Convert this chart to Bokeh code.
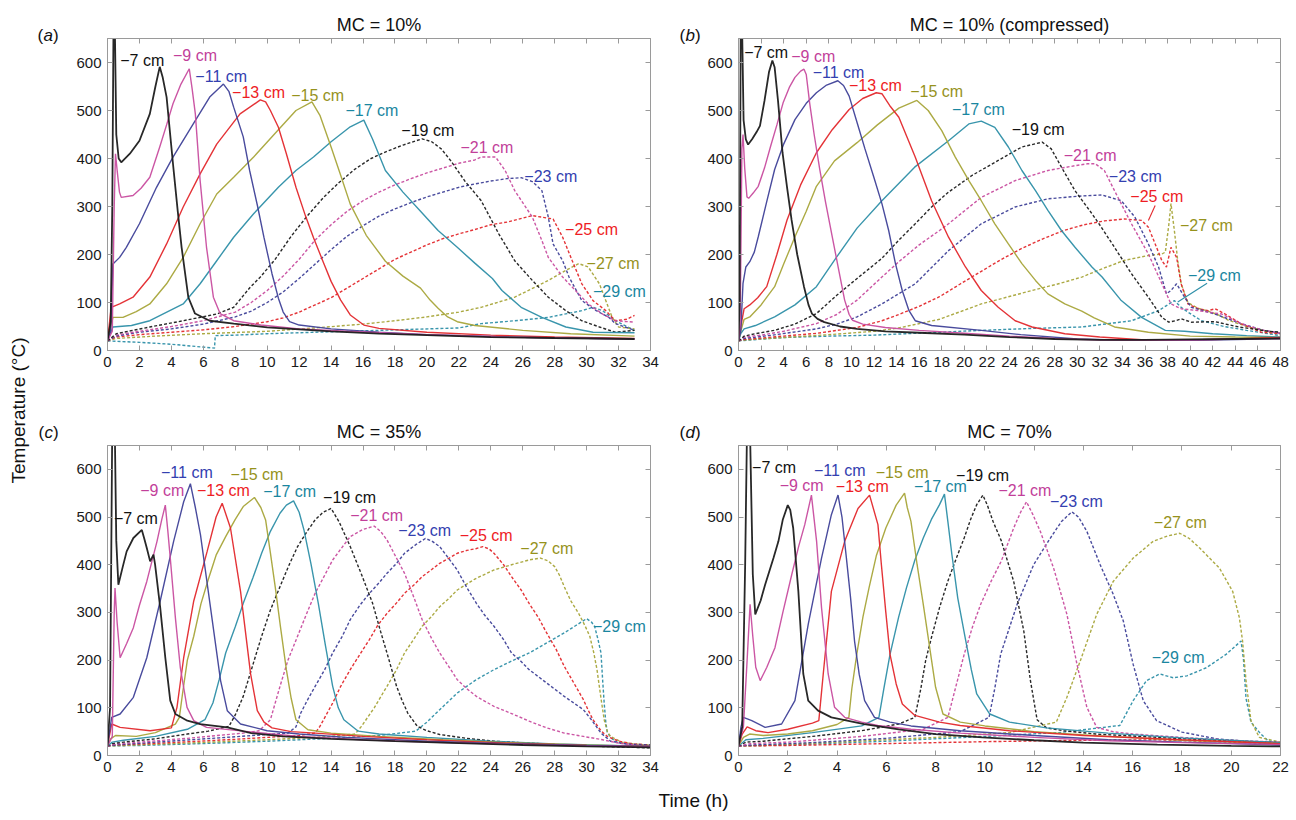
import math
from bokeh.plotting import figure
from bokeh.layouts import row, column
from bokeh.models import Range1d, FixedTicker, LinearAxis, ColumnDataSource
from bokeh.core.properties import value
from bokeh.embed import file_html
from bokeh.resources import INLINE

# ---------------- data: (time h, temperature C) ----------------
DEPTHS = [7, 9, 11, 13, 15, 17, 19, 21, 23, 25, 27, 29]

# Panel (a) MC = 10%
a07 = [(0,20),(0.2,60),(0.3,300),(0.38,700),(0.45,700),(0.55,450),(0.7,400),(0.86,392),(1.4,410),(2.0,437),(2.65,493),(3.0,550),(3.27,591),(3.45,570),(3.7,528),(4.1,389),(4.4,290),(4.64,215),(5.06,111),(5.48,77),(6.4,62),(7.9,56),(10,48),(12,44),(14,40),(17,35),(20,32),(24,28),(28,26),(33,24)]
a09 = [(0,20),(0.3,40),(0.42,300),(0.5,410),(0.62,370),(0.75,330),(0.86,319),(1.6,323),(2.1,338),(2.65,361),(3.27,424),(3.7,470),(4.1,514),(4.6,555),(5.12,587),(5.3,545),(5.5,493),(5.8,354),(6.2,215),(6.63,111),(7.05,77),(7.9,62),(9.6,53),(12,45),(15,40),(20,33),(25,28),(33,24)]
a11 = [(0,20),(0.2,40),(0.34,180),(0.76,194),(1.18,215),(2.0,264),(3.07,340),(4.1,403),(5.37,472),(6.4,528),(7.26,555),(7.6,540),(7.9,507),(8.5,445),(8.9,375),(9.4,300),(9.8,235),(10.3,160),(10.7,109),(11.0,80),(11.4,60),(12,53),(14,45),(17,38),(20,33),(25,28),(33,24)]
a13 = [(0,20),(0.23,90),(0.76,97),(1.6,111),(2.65,153),(3.7,222),(4.74,299),(5.8,368),(6.84,430),(8.3,493),(9.57,522),(9.9,518),(10.2,500),(10.7,465),(11.2,410),(11.8,340),(12.4,280),(12.9,235),(13.5,185),(14.0,144),(14.6,105),(15.2,74),(16.05,53),(17,46),(20,38),(24,32),(28,28),(33,25)]
a15 = [(0,20),(0.34,69),(0.97,69),(1.8,81),(2.65,97),(3.7,139),(4.74,194),(5.8,264),(6.84,326),(7.9,361),(9.15,403),(10.7,460),(11.8,500),(12.8,518),(13.3,490),(14.0,424),(14.6,365),(15.2,305),(16.2,240),(17.4,186),(18.5,155),(19.6,130),(20.2,105),(20.7,88),(21.3,70),(21.9,60),(23,52),(26,42),(29,35),(33,30)]
a17 = [(0,20),(0.34,49),(1.5,52),(2.65,62),(4.74,97),(5.8,139),(6.84,187),(7.9,236),(9.15,285),(10.7,340),(11.8,375),(12.9,403),(14.0,435),(15.2,466),(16.05,480),(16.6,440),(17.4,375),(18.5,330),(19.6,290),(20.7,250),(21.9,215),(23.0,182),(24.1,150),(24.7,125),(25.9,90),(27.2,69),(28.7,49),(30.4,38),(33,37)]
a19 = [(0,20),(0.55,35),(2.65,49),(4.74,62),(6.84,76),(7.9,90),(8.94,132),(9.57,153),(10.5,190),(11.5,238),(12.5,280),(13.5,318),(14.5,350),(15.5,378),(16.5,400),(17.5,415),(18.5,428),(19.7,441),(20.3,435),(20.9,420),(21.5,395),(22.4,352),(23.4,312),(24.5,243),(25.5,187),(26.6,146),(27.6,111),(28.7,83),(29.7,62),(30.8,49),(31.8,38),(33,42)]
a21 = [(0,20),(0.5,32),(2,40),(4,50),(6,62),(8,80),(9,100),(10,125),(11,155),(12,190),(13,230),(14,262),(15,290),(16,312),(17,330),(18,345),(19,358),(20,370),(21,380),(22,390),(23,397),(23.4,403),(24.3,403),(24.9,375),(25.5,333),(26.6,278),(27.2,229),(27.6,194),(28.5,153),(29.3,125),(30.1,97),(31.0,76),(31.8,62),(33,59)]
a23 = [(0,20),(0.5,30),(2,38),(4,45),(6,55),(8,70),(9,82),(10,100),(11,122),(12,150),(13,180),(14,210),(15,238),(16,260),(17,280),(18,295),(19,308),(20,320),(21,330),(22,340),(23,347),(24,353),(25,358),(25.9,360),(26.6,352),(27.2,333),(27.6,278),(27.9,222),(28.5,187),(28.9,153),(29.7,104),(30.6,83),(31.4,69),(31.8,56),(33,42)]
a25 = [(0,20),(0.5,28),(2,33),(4,38),(6,43),(8,50),(10,60),(11,68),(12,80),(13,95),(14,110),(15,130),(16,150),(17,170),(18,190),(19,205),(20,220),(21,233),(22,243),(23,252),(24,262),(25.1,268),(26.6,281),(27.9,274),(28.5,236),(29.1,187),(29.7,139),(30.4,104),(31.2,83),(31.8,62),(32.5,65),(33,73)]
a27 = [(0,20),(0.5,25),(3,30),(6,35),(10,40),(13,47),(16,55),(18,62),(20,70),(22,80),(23.4,90),(25.5,111),(27.6,146),(28.7,167),(29.5,181),(30.1,174),(30.8,139),(31.2,104),(31.6,69),(32.0,49),(33,45)]
a29 = [(0,20),(2,17),(4,13),(6,7),(6.7,5),(6.75,31),(8,32),(10,35),(14,39),(18,43),(22,47),(23.4,56),(25.5,62),(27.6,69),(29.7,83),(30.4,90),(31.0,83),(31.8,62),(33,42)]
a_lab_depth = [7, 9, 11, 13, 15, 17, 19, 21, 23, 25, 27, 29]
a_lab_text = ["−7 cm", "−9 cm", "−11 cm", "−13 cm", "−15 cm", "−17 cm", "−19 cm", "−21 cm", "−23 cm", "−25 cm", "−27 cm", "−29 cm"]
a_lab_t = [0.8, 4.1, 5.5, 7.8, 11.5, 14.9, 18.4, 22.1, 26.1, 28.65, 30.0, 30.4]
a_lab_T = [604, 614, 571, 537, 532, 500, 459, 422, 362, 252, 182, 122]

# Panel (b) MC = 10% (compressed)
b07 = [(0,20),(0.1,100),(0.2,700),(0.3,700),(0.45,480),(0.65,440),(0.85,429),(1.2,440),(1.6,455),(1.9,468),(2.3,520),(2.7,580),(3.0,604),(3.2,590),(3.5,520),(3.9,412),(4.3,340),(4.7,272),(5.2,200),(5.8,133),(6.2,95),(6.5,77),(7.0,66),(7.6,59),(9,50),(10.5,45),(13,40),(16,37),(20,33),(24,28),(28,24),(32,22),(36,22),(40,23),(44,24),(48,25)]
b09 = [(0,20),(0.15,60),(0.3,420),(0.4,450),(0.55,380),(0.75,320),(0.9,317),(1.3,328),(1.75,342),(2.3,380),(2.85,426),(3.4,470),(3.95,516),(4.5,548),(5.0,569),(5.5,582),(5.8,586),(6.0,575),(6.3,516),(6.7,450),(7.2,377),(7.7,310),(8.3,237),(8.9,165),(9.4,105),(9.8,75),(10.1,63),(11,55),(13,48),(16,42),(20,36),(24,30),(28,25),(32,22),(36,21),(40,22),(44,24),(48,25)]
b11 = [(0,20),(0.2,40),(0.4,140),(0.65,174),(1.0,185),(1.4,205),(1.75,237),(2.5,310),(3.2,377),(4.0,430),(5.0,481),(6.0,515),(6.9,537),(7.8,553),(8.8,562),(9.3,552),(9.8,530),(10.5,475),(11.2,420),(12.0,360),(12.7,306),(13.3,250),(13.9,181),(14.5,125),(15.1,83),(15.65,62),(17.1,52),(21.5,42),(25,33),(30,24),(35,21),(40,21),(44,23),(48,25)]
b13 = [(0,20),(0.2,50),(0.5,87),(1.0,95),(1.7,110),(2.5,133),(3.4,200),(4.3,272),(5.5,345),(6.9,412),(8.3,460),(9.8,502),(11,525),(12.2,537),(12.7,535),(13.4,510),(14.2,486),(15.65,403),(17.1,312),(18.6,236),(20.1,174),(21.5,125),(23.0,90),(24.5,62),(26.0,49),(28.9,35),(32,28),(36,22),(40,22),(44,24),(48,27)]
b15 = [(0,20),(0.2,40),(0.5,65),(1.0,70),(2.0,95),(3.2,133),(4.0,180),(5.0,237),(6.0,290),(6.9,342),(8.5,395),(10.5,433),(12.3,470),(14.2,505),(15.8,521),(16.8,500),(18.0,458),(19.2,403),(20.4,354),(21.5,312),(22.7,264),(23.9,222),(25.1,181),(26.3,146),(27.4,118),(28.9,97),(30.4,82),(31.5,68),(33.3,49),(36.3,38),(40,30),(44,28),(48,27)]
b17 = [(0,20),(0.2,35),(0.5,45),(1.5,52),(3.2,70),(5.0,95),(6.9,133),(8.7,195),(10.5,255),(12.7,312),(15.6,382),(18.6,437),(20.4,472),(21.5,478),(22.7,465),(23.9,424),(25.1,375),(26.3,333),(27.4,292),(28.6,250),(29.8,215),(31.3,174),(32.2,153),(33.9,104),(35.7,69),(37.8,42),(39.5,40),(42,35),(45,31),(48,28)]
b19 = [(0,20),(0.5,30),(1.5,35),(3.2,42),(5,55),(6.9,77),(8.7,115),(10.5,150),(12.7,192),(14.2,230),(15.65,264),(17.1,299),(18.6,330),(20.7,365),(23.0,396),(25.1,424),(26.9,434),(27.7,420),(28.6,382),(29.8,333),(31.3,285),(31.9,265),(33.3,215),(34.8,160),(36.3,111),(37.5,69),(38.1,59),(38.7,62),(39.2,66),(40.1,59),(42.2,60),(44.3,49),(47,40),(48,38)]
b21 = [(0,20),(0.5,28),(2,32),(4,40),(6.9,56),(8.7,75),(10.5,105),(12.7,153),(14.2,185),(16,220),(17.8,250),(18.6,264),(21.5,319),(24.5,354),(27.4,375),(29.8,385),(30.9,389),(31.6,389),(32.4,375),(33.3,333),(34.8,264),(36.3,201),(37.5,139),(38.3,97),(39.2,87),(40.7,83),(42.8,76),(44.5,56),(46.5,42),(48,36)]
b23 = [(0,20),(0.5,25),(3,32),(6.9,45),(8.7,55),(10.5,70),(12.7,97),(15.65,139),(18.6,208),(21.5,264),(24.5,299),(27.4,316),(30.4,322),(32.2,324),(33.9,312),(35.1,278),(36.3,222),(37.2,174),(37.9,118),(38.3,125),(38.8,139),(39.5,111),(40.1,90),(42.2,76),(44.5,56),(46.5,42),(48,36)]
b25 = [(0,20),(0.5,23),(3,28),(7,36),(10.5,48),(12.7,62),(14.2,75),(16,92),(17.8,112),(19.6,138),(21.5,165),(23.3,190),(25.1,213),(27,233),(28.8,250),(30.6,262),(32.4,270),(34.2,274),(35.7,271),(36.3,257),(36.9,222),(37.5,187),(37.9,174),(38.3,215),(38.8,194),(39.2,139),(39.8,97),(40.7,87),(41.6,83),(42.2,87),(43.1,76),(44.5,56),(46.3,38),(48,35)]
b27 = [(0,20),(0.5,22),(4,27),(8,33),(12,40),(14.2,47),(17.8,65),(21.5,97),(26.0,125),(28.5,140),(30.4,153),(32.4,172),(34.2,188),(36.3,198),(37.5,201),(37.8,205),(38.1,260),(38.3,306),(38.6,250),(38.9,187),(39.2,139),(39.8,100),(40.7,88),(41.6,82),(42.5,74),(43.4,63),(45,50),(47,38),(48,35)]
b29 = [(0,20),(1,22),(4,27),(8,30),(12,32),(17.8,38),(21.5,42),(26,46),(30.4,49),(34.8,62),(37.2,83),(38.6,104),(39.2,90),(39.8,80),(41,62),(43,50),(45,42),(48,31)]
b_lab_depth = [7, 9, 11, 13, 15, 17, 19, 21, 23, 25, 27, 29]
b_lab_text = ["−7 cm", "−9 cm", "−11 cm", "−13 cm", "−15 cm", "−17 cm", "−19 cm", "−21 cm", "−23 cm", "−25 cm", "−27 cm", "−29 cm"]
b_lab_t = [0.5, 4.67, 6.57, 9.78, 15.2, 18.9, 24.2, 28.8, 32.8, 34.7, 39.1, 39.8]
b_lab_T = [620, 612, 580, 553, 539, 502, 460, 406, 363, 321, 260, 156]
b_lead_depth = [25, 29]
b_lead_t0 = [36.9, 41.5]
b_lead_T0 = [302, 140]
b_lead_t1 = [36.3, 38.9]
b_lead_T1 = [271, 101]

# Panel (c) MC = 35%
c07 = [(0,20),(0.16,100),(0.3,700),(0.45,700),(0.55,450),(0.68,358),(0.95,395),(1.2,428),(1.62,456),(2.15,473),(2.3,455),(2.46,435),(2.67,407),(2.88,421),(2.98,400),(3.3,310),(3.62,205),(3.93,115),(4.25,87),(5.0,73),(5.8,66),(7.5,59),(9,47),(11,40),(14,35),(18,30),(22,26),(26,22),(30,19),(34,17)]
c09 = [(0,20),(0.3,40),(0.42,300),(0.47,351),(0.6,280),(0.79,205),(1.2,235),(1.62,268),(2.0,315),(2.46,365),(3.1,449),(3.4,495),(3.62,525),(3.78,470),(3.93,414),(4.25,289),(4.56,184),(4.98,101),(5.4,73),(6.2,59),(8.5,51),(10,46),(12,40),(16,33),(20,28),(25,24),(30,20),(34,18)]
c11 = [(0,20),(0.26,80),(0.79,87),(1.62,122),(2.46,205),(3.3,324),(4.14,449),(4.77,532),(5.19,570),(5.5,520),(5.82,463),(6.45,310),(7.08,157),(7.5,94),(8.33,66),(10,52),(12,45),(15,38),(20,30),(25,25),(30,21),(34,19)]
c13 = [(0,20),(0.26,66),(0.79,59),(2.67,52),(4.0,58),(4.35,101),(4.77,205),(5.4,324),(6.24,428),(6.8,500),(7.18,529),(7.7,477),(8.33,344),(8.96,171),(9.38,94),(9.8,70),(10.3,58),(11.5,50),(13,47),(16,40),(20,33),(25,26),(30,21),(34,19)]
c15 = [(0,20),(0.2,35),(0.5,42),(1.8,40),(3,48),(4.25,66),(4.5,80),(4.7,130),(5.0,200),(5.4,250),(5.85,318),(6.3,368),(6.8,420),(7.4,459),(8.0,495),(8.5,522),(9.2,541),(9.6,520),(9.9,494),(10.2,425),(10.5,354),(10.85,265),(11.2,180),(11.5,120),(11.8,75),(12.55,54),(14,47),(17,40),(21,33),(25,27),(30,22),(34,19)]
c17 = [(0,20),(0.3,28),(1,32),(3,40),(5,55),(6.1,75),(6.6,110),(7.0,160),(7.4,215),(8.0,270),(8.5,319),(9.1,372),(9.65,424),(10.2,470),(10.8,508),(11.2,525),(11.65,534),(12.0,510),(12.3,473),(12.75,400),(13.2,319),(13.65,230),(14.1,145),(14.45,100),(14.8,75),(15.7,51),(17,45),(20,38),(24,30),(28,24),(34,19)]
c19 = [(0,20),(0.3,25),(1,28),(3,35),(5,45),(6.3,51),(7.6,61),(8.0,85),(8.5,124),(9.1,190),(9.65,250),(10.2,305),(10.8,354),(11.35,398),(11.9,438),(12.5,470),(13.0,494),(13.5,510),(14.0,518),(14.5,490),(15.2,438),(15.9,380),(16.6,319),(17.1,260),(17.5,215),(17.8,180),(18.1,145),(18.45,115),(18.8,89),(19.4,61),(20.0,52),(20.8,44),(22.5,36),(24.2,30),(28,23),(31,19),(34,16)]
c21 = [(0,20),(0.5,24),(2,28),(5,36),(8.5,47),(9.5,52),(10.2,75),(10.8,145),(11.3,200),(11.9,250),(12.5,300),(13.0,340),(13.6,378),(14.1,410),(14.7,437),(15.2,459),(16.0,474),(16.7,481),(17.1,470),(17.5,452),(18.0,420),(18.6,382),(19.2,330),(19.7,285),(20.3,245),(20.8,215),(21.4,185),(21.9,159),(22.5,140),(23.1,124),(24.2,103),(25.3,88),(26.4,72),(27.5,58),(28.6,47),(29.8,40),(31,33),(32,26),(33,22),(34,20)]
c23 = [(0,20),(0.5,22),(3,28),(7,37),(10,44),(11.3,47),(11.8,60),(12.1,89),(12.5,115),(13.0,145),(13.6,180),(14.1,215),(14.7,250),(15.2,285),(15.8,315),(16.4,340),(17.0,362),(17.5,382),(18.1,403),(18.6,424),(19.3,442),(19.9,455),(20.3,450),(20.8,438),(21.3,416),(21.9,389),(22.5,352),(23.1,319),(23.6,295),(24.2,271),(24.8,243),(25.3,215),(25.9,197),(26.4,180),(27.5,152),(28.6,124),(29.2,110),(29.8,96),(30.3,75),(30.9,47),(31.5,30),(32.5,24),(34,22)]
c25 = [(0,20),(0.5,22),(4,27),(8,34),(12,42),(13,47),(13.3,61),(14.1,110),(14.6,145),(15.2,180),(15.8,212),(16.4,243),(16.9,272),(17.5,298),(18.1,320),(18.6,340),(19.2,358),(19.7,375),(20.3,390),(20.8,403),(21.4,414),(21.9,424),(22.5,430),(23.1,434),(23.5,438),(23.9,433),(24.2,424),(24.8,400),(25.3,375),(25.9,347),(26.4,319),(27.0,288),(27.5,257),(28.1,222),(28.6,187),(29.2,152),(29.8,117),(30.1,95),(30.4,75),(30.9,52),(31.3,40),(32,30),(33,24),(34,22)]
c27 = [(0,20),(1,21),(5,26),(10,33),(14,40),(15.5,45),(15.9,61),(16.7,100),(17.5,145),(18.1,180),(18.6,215),(19.2,245),(19.7,271),(20.3,292),(20.8,312),(21.4,330),(21.9,347),(23.0,370),(24.2,389),(25.3,400),(26.4,410),(27.1,414),(27.6,408),(28.0,396),(28.3,378),(28.6,354),(29.0,325),(29.5,298),(29.9,272),(30.2,250),(30.45,215),(30.65,180),(30.9,120),(31.1,75),(31.3,50),(31.5,40),(32.2,28),(33,24),(34,22)]
c29 = [(0,20),(2,21),(6,25),(10,30),(14,36),(17,42),(19.3,51),(20.0,70),(20.8,96),(21.4,115),(21.9,131),(23.0,157),(24.2,180),(25.3,198),(26.4,215),(27.5,236),(28.6,257),(29.3,272),(30.0,287),(30.3,280),(30.5,271),(30.7,245),(30.9,215),(31.0,160),(31.1,110),(31.2,70),(31.3,47),(31.6,35),(32,26),(33,23),(34,22)]
c_lab_depth = [7, 9, 11, 13, 15, 17, 19, 21, 23, 25, 27, 29]
c_lab_text = ["−7 cm", "−9 cm", "−11 cm", "−13 cm", "−15 cm", "−17 cm", "−19 cm", "−21 cm", "−23 cm", "−25 cm", "−27 cm", "−29 cm"]
c_lab_t = [0.4, 2.05, 3.35, 5.6, 7.7, 9.75, 13.5, 15.2, 18.2, 22.05, 25.85, 30.4]
c_lab_T = [497, 555, 593, 555, 589, 553, 542, 504, 471, 462, 433, 270]

# Panel (d) MC = 70%
d07 = [(0,20),(0.15,60),(0.27,400),(0.35,700),(0.46,700),(0.58,380),(0.68,296),(0.9,325),(1.08,358),(1.42,414),(1.62,449),(1.8,495),(2.0,525),(2.1,515),(2.22,477),(2.43,344),(2.63,171),(2.83,115),(3.23,94),(3.77,80),(5.1,66),(6.5,55),(8,45),(9.9,38),(12,32),(14,27),(17,23),(20,20),(22,19)]
d09 = [(0,20),(0.2,60),(0.35,200),(0.47,317),(0.58,250),(0.7,185),(0.88,157),(1.15,185),(1.48,226),(1.8,300),(2.16,379),(2.45,440),(2.69,484),(2.96,546),(3.17,449),(3.37,310),(3.64,171),(3.9,101),(4.31,80),(5.0,70),(5.65,63),(7,55),(9,47),(12,38),(15,31),(18,27),(22,23)]
d11 = [(0,20),(0.1,60),(0.2,80),(0.54,73),(1.08,59),(1.75,66),(2.29,115),(2.83,275),(3.37,414),(3.77,505),(4.04,546),(4.2,500),(4.38,414),(4.55,330),(4.71,240),(4.9,170),(5.12,115),(5.52,80),(6.15,70),(7,62),(9,52),(12,42),(15,33),(18,28),(22,22)]
d13 = [(0,20),(0.15,45),(0.35,60),(0.7,52),(1.2,48),(2,55),(3.0,68),(3.26,73),(3.44,171),(3.77,344),(4.31,449),(4.85,518),(5.32,546),(5.66,484),(5.8,400),(5.98,300),(6.15,212),(6.4,150),(6.65,108),(7.16,84),(8.16,70),(9,63),(11,52),(14,42),(18,33),(22,25)]
d15 = [(0,20),(0.2,38),(0.45,45),(1.0,42),(2,45),(3,52),(4.0,65),(4.48,80),(4.6,140),(4.8,212),(5.05,290),(5.3,352),(5.6,420),(5.98,477),(6.4,525),(6.74,550),(6.85,520),(7.0,491),(7.25,400),(7.5,317),(7.75,230),(8.0,143),(8.3,87),(9.0,70),(10,62),(12,50),(15,40),(18,32),(22,25)]
d17 = [(0,20),(0.3,33),(1,36),(3,48),(5,62),(5.7,80),(5.9,140),(6.15,212),(6.5,290),(6.82,352),(7.16,410),(7.5,456),(7.83,495),(8.16,526),(8.36,548),(8.5,490),(8.66,422),(8.9,330),(9.2,247),(9.45,180),(9.67,129),(10.2,87),(11.0,70),(12.5,58),(15,47),(18,37),(22,27)]
d19 = [(0,20),(0.3,28),(1,30),(3,40),(5,52),(6.5,66),(7.16,80),(7.4,140),(7.6,200),(7.83,247),(8.16,310),(8.5,366),(8.83,412),(9.16,456),(9.42,495),(9.67,526),(9.92,546),(10.1,525),(10.33,491),(10.67,450),(11.17,365),(11.58,261),(11.85,157),(12.12,75),(12.5,58),(13.2,52),(14.5,45),(17,38),(20,30),(22,27)]
d21 = [(0,20),(0.5,25),(2,28),(5,40),(7.5,55),(8.5,80),(8.8,140),(9.16,212),(9.5,270),(9.83,317),(10.25,365),(10.67,408),(11.17,477),(11.45,510),(11.69,532),(11.95,505),(12.25,470),(12.79,393),(13.33,296),(13.74,191),(14.14,101),(14.54,59),(15.2,50),(16,45),(18,38),(20,32),(22,28)]
d23 = [(0,20),(0.5,22),(3,27),(6,36),(9,50),(10.17,80),(10.4,140),(10.64,212),(11.31,317),(11.98,400),(12.66,456),(13.1,490),(13.53,511),(13.8,500),(14.14,470),(14.68,400),(15.21,338),(15.62,282),(16.02,191),(16.43,115),(16.97,73),(18.0,49),(19.4,35),(21,28),(22,24)]
d25 = [(0,20),(2,21),(6,25),(10,29),(14,32),(17,33),(20,28),(22,24)]
d27 = [(0,20),(1,21),(4,28),(8,38),(11,48),(12.9,70),(13.33,122),(13.87,198),(14.54,296),(15.21,365),(16.02,414),(16.83,449),(17.4,460),(17.91,466),(18.3,455),(18.72,435),(19.52,393),(20.06,344),(20.33,289),(20.46,240),(20.6,157),(20.8,73),(21.14,38),(22,28)]
d29 = [(0,20),(2,22),(6,30),(10,40),(13,48),(15.48,63),(16.02,115),(16.56,157),(17.1,171),(17.64,163),(18.2,167),(18.99,184),(19.79,212),(20.4,240),(20.5,200),(20.6,120),(20.8,70),(21.2,45),(21.5,31),(22,26)]
d_lab_depth = [7, 9, 11, 13, 15, 17, 19, 21, 23, 27, 29]
d_lab_text = ["−7 cm", "−9 cm", "−11 cm", "−13 cm", "−15 cm", "−17 cm", "−19 cm", "−21 cm", "−23 cm", "−27 cm", "−29 cm"]
d_lab_t = [0.55, 1.67, 3.06, 3.95, 5.57, 7.12, 8.83, 10.55, 12.64, 16.86, 16.77]
d_lab_T = [603, 567, 597, 564, 594, 564, 587, 556, 533, 488, 206]

x_ticks_a = list(range(0, 35, 2))
x_ticks_b = list(range(0, 49, 2))
x_ticks_c = list(range(0, 35, 2))
x_ticks_d = list(range(0, 23, 2))
y_ticks = [0, 100, 200, 300, 400, 500, 600]

panel_titles = ["MC = 10%", "MC = 10% (compressed)", "MC = 35%", "MC = 70%"]
panel_letters = ["a", "b", "c", "d"]

# ---------------- styles ----------------
BLACK, PINK, BLUE, RED, OLIVE, TEAL = "#1c1c1c", "#c84d9f", "#3f4198", "#e3282c", "#a8a53a", "#2e8fa8"
LINE_COLOR = {7: BLACK, 9: PINK, 11: BLUE, 13: RED, 15: OLIVE, 17: TEAL,
              19: BLACK, 21: PINK, 23: BLUE, 25: RED, 27: OLIVE, 29: TEAL}
TEXT_COLOR = {7: "#111111", 9: "#c23f9a", 11: "#3340b0", 13: "#ee1c24", 15: "#96921c", 17: "#1a86a0",
              19: "#111111", 21: "#c23f9a", 23: "#3340b0", 25: "#ee1c24", 27: "#96921c", 29: "#1a86a0"}
FONT = "Liberation Sans"
AXC = "#9a9a9a"


def style_axis(ax, ticks, show_labels, standoff):
    ax.ticker = FixedTicker(ticks=ticks)
    ax.major_tick_in = 5
    ax.major_tick_out = 0
    ax.minor_tick_line_color = None
    ax.axis_line_color = AXC
    ax.major_tick_line_color = AXC
    ax.major_label_text_font = FONT
    ax.major_label_standoff = standoff
    if show_labels:
        ax.major_label_text_font_size = "15px"
        ax.major_label_text_color = "#1a1a1a"
    else:
        ax.major_label_text_font_size = "1px"
        ax.major_label_text_color = None
        ax.major_label_standoff = 0


def make_panel(curves, xmax, xticks, title, lab_depth, lab_text, lab_t, lab_T,
               width, height, bl, br, bt, bb, leaders=None):
    p = figure(width=width, height=height, x_range=Range1d(0, xmax), y_range=Range1d(0, 650),
               output_backend="svg", toolbar_location=None,
               min_border_left=bl, min_border_right=br, min_border_top=bt, min_border_bottom=bb)
    p.grid.visible = False
    p.outline_line_color = AXC
    p.background_fill_color = "white"
    p.border_fill_color = "white"
    for d in reversed(DEPTHS):
        pts = curves.get(d)
        if pts is None:
            continue
        xs = [q[0] for q in pts]
        ys = [q[1] for q in pts]
        dashed = d >= 19
        p.line(xs, ys, line_color=LINE_COLOR[d], line_alpha=0.95,
               line_width=(1.8 if d == 7 else 1.4),
               line_dash=("3 2" if dashed else "solid"))
    if leaders:
        for d, t0, T0, t1, T1 in leaders:
            p.segment(x0=[t0], y0=[T0], x1=[t1], y1=[T1], line_color=LINE_COLOR[d], line_width=1.1)
    src = ColumnDataSource(dict(x=lab_t, y=lab_T, text=lab_text,
                                color=[TEXT_COLOR[d] for d in lab_depth]))
    p.text(x="x", y="y", text="text", source=src, text_color="color",
           text_font=value(FONT), text_font_size="16px",
           text_align="left", text_baseline="middle")
    style_axis(p.xaxis[0], xticks, True, 6)
    style_axis(p.yaxis[0], y_ticks, True, 6)
    top = LinearAxis()
    style_axis(top, xticks, False, 0)
    p.add_layout(top, "above")
    right = LinearAxis()
    style_axis(right, y_ticks, False, 0)
    p.add_layout(right, "right")
    p.title.text = title
    p.title.align = "center"
    p.title.text_font = FONT
    p.title.text_font_size = "18px"
    p.title.text_font_style = "normal"
    p.title.text_color = "#111111"
    p.title.standoff = 7
    return p


def strip(width, height):
    s = figure(width=width, height=height, x_range=Range1d(0, width), y_range=Range1d(0, height),
               x_axis_type=None, y_axis_type=None, output_backend="svg", toolbar_location=None,
               min_border=0)
    s.grid.visible = False
    s.outline_line_color = None
    s.background_fill_color = "white"
    s.border_fill_color = "white"
    return s


def add_letter(s, x, y, letter):
    lw = {"a": 9.5, "b": 9.5, "c": 8.5, "d": 9.5}[letter]
    for txt, dx, style in (("(", 0, "normal"), (letter, 6, "italic"), (")", 6 + lw, "normal")):
        s.text(x=[x + dx], y=[y], text=[txt], text_font=value(FONT), text_font_size="17px",
               text_font_style=style, text_color="#111111",
               text_align="left", text_baseline="middle")


pa = make_panel({7: a07, 9: a09, 11: a11, 13: a13, 15: a15, 17: a17, 19: a19, 21: a21, 23: a23, 25: a25, 27: a27, 29: a29},
                34, x_ticks_a, panel_titles[0], a_lab_depth, a_lab_text, a_lab_t, a_lab_T,
                606, 400, 37, 25, 38, 50)
pb = make_panel({7: b07, 9: b09, 11: b11, 13: b13, 15: b15, 17: b17, 19: b19, 21: b21, 23: b23, 25: b25, 27: b27, 29: b29},
                48, x_ticks_b, panel_titles[1], b_lab_depth, b_lab_text, b_lab_t, b_lab_T,
                592, 400, 33, 16, 38, 50,
                leaders=list(zip(b_lead_depth, b_lead_t0, b_lead_T0, b_lead_t1, b_lead_T1)))
pc = make_panel({7: c07, 9: c09, 11: c11, 13: c13, 15: c15, 17: c17, 19: c19, 21: c21, 23: c23, 25: c25, 27: c27, 29: c29},
                34, x_ticks_c, panel_titles[2], c_lab_depth, c_lab_text, c_lab_t, c_lab_T,
                606, 380, 37, 26, 45, 25)
pd = make_panel({7: d07, 9: d09, 11: d11, 13: d13, 15: d15, 17: d17, 19: d19, 21: d21, 23: d23, 25: d25, 27: d27, 29: d29},
                22, x_ticks_d, panel_titles[3], d_lab_depth, d_lab_text, d_lab_t, d_lab_T,
                592, 380, 33, 15, 45, 25)

# left strip: shared y title + (a), (c)
pl = strip(70, 780)
pl.text(x=[18], y=[370], text=["Temperature (°C)"], angle=math.pi / 2,
        text_font=value(FONT), text_font_size="19px", text_color="#111111",
        text_align="center", text_baseline="middle")
add_letter(pl, 37, 745, panel_letters[0])
add_letter(pl, 38, 348, panel_letters[2])

# middle strip: (b), (d)
pm = strip(28, 780)
add_letter(pm, 3, 745, panel_letters[1])
add_letter(pm, 3, 348, panel_letters[3])

# bottom strip: shared x title
pbot = strip(1296, 40)
pbot.text(x=[693], y=[20], text=["Time (h)"],
          text_font=value(FONT), text_font_size="19px", text_color="#111111",
          text_align="center", text_baseline="middle")

layout = column(row(pl, column(pa, pc, spacing=0), pm, column(pb, pd, spacing=0), spacing=0),
                pbot, spacing=0)

open("out.html", "w").write(file_html(layout, INLINE))
